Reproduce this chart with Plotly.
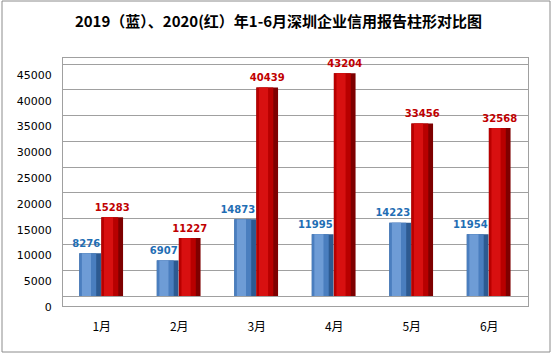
import plotly.graph_objects as go

months = ["1月", "2月", "3月", "4月", "5月", "6月"]
values_2019 = [8276, 6907, 14873, 11995, 14223, 11954]
values_2020 = [15283, 11227, 40439, 43204, 33456, 32568]
y_ticks = [0, 5000, 10000, 15000, 20000, 25000, 30000, 35000, 40000, 45000]

W, H = 557, 356
L, R, T, B = 63, 29, 58, 50
pw, ph = W - L - R, H - T - B

xs = list(range(len(months)))
BW = 0.28
OFF_BLUE, OFF_RED = -0.29, -0.005

unit_per_px = 45000 / (296 - 64)
ymin = -(306 - 296) * unit_per_px
ymax = 45000 + (64 - 58) * unit_per_px
label_pad = 4 * unit_per_px

fig = go.Figure()

def cylinder(vals, off, width, colors, name):
    # layered bars to mimic cylinder shading
    layers = [
        (0.0, 1.0, colors[0]),
        (0.0, 0.78, colors[1]),
        (0.12, 0.42, colors[2]),
    ]
    for o, f, c in layers:
        fig.add_trace(go.Bar(
            x=xs, y=vals, name=name,
            offset=off + o * width, width=width * f,
            marker=dict(color=c, line=dict(width=0)),
            showlegend=False, hoverinfo="skip",
        ))

cylinder(values_2019, OFF_BLUE, BW, ["#2D5A91", "#4A7EBF", "#6E9CD6"], "2019")
cylinder(values_2020, OFF_RED, BW, ["#7E0000", "#B80000", "#D81010"], "2020")

# value labels
fig.add_trace(go.Scatter(
    x=[i + OFF_RED - 0.015 for i in xs], y=[v + label_pad for v in values_2019], mode="text",
    text=[str(v) for v in values_2019], textposition="top left",
    textfont=dict(family="DejaVu Sans", size=10, color="#1F6EB4", weight="bold"),
    showlegend=False, hoverinfo="skip", cliponaxis=False,
))
fig.add_trace(go.Scatter(
    x=[i + OFF_RED + BW / 2 for i in xs], y=[v + label_pad for v in values_2020], mode="text",
    text=[str(v) for v in values_2020], textposition="top center",
    textfont=dict(family="DejaVu Sans", size=10, color="#C00000", weight="bold"),
    showlegend=False, hoverinfo="skip", cliponaxis=False,
))

fig.update_layout(
    width=W, height=H,
    margin=dict(l=L, r=R, t=T, b=B),
    paper_bgcolor="white", plot_bgcolor="white",
    barmode="overlay",
    title=dict(text="<b>2019（蓝）、2020(红）年1-6月深圳企业信用报告柱形对比图</b>",
               x=0.5, xanchor="center", y=1 - 22 / H, yanchor="middle",
               yref="container",
               font=dict(family="Noto Sans CJK SC", size=15, color="black")),
    xaxis=dict(range=[-0.5, 5.5], tickvals=xs, ticktext=months,
               showgrid=False, zeroline=False,
               showline=True, linecolor="#A0A0A0", mirror=True,
               ticks="outside", ticklen=10, tickcolor="rgba(0,0,0,0)",
               tickfont=dict(family="Noto Sans CJK SC", size=12, color="black")),
    yaxis=dict(range=[ymin, ymax], tickvals=y_ticks,
               ticktext=[str(v) for v in y_ticks],
               showgrid=True, gridcolor="#A0A0A0", gridwidth=1,
               zeroline=True, zerolinecolor="#A0A0A0", zerolinewidth=1,
               showline=True, linecolor="#A0A0A0", mirror=True,
               ticks="outside", ticklen=8, tickcolor="rgba(0,0,0,0)",
               ticklabelshift=11,
               tickfont=dict(family="DejaVu Sans", size=11, color="black")),
)

# outer chart frame
fig.add_shape(type="rect", xref="paper", yref="paper",
              x0=(2 - L) / pw, x1=(550 - L) / pw,
              y0=(T + ph - 352) / ph, y1=(T + ph - 1) / ph,
              line=dict(color="#8C8C8C", width=1), fillcolor="rgba(0,0,0,0)", layer="below")

fig.write_html("out.html", config={"displayModeBar": False},
               post_script="document.body.style.margin='0';")
